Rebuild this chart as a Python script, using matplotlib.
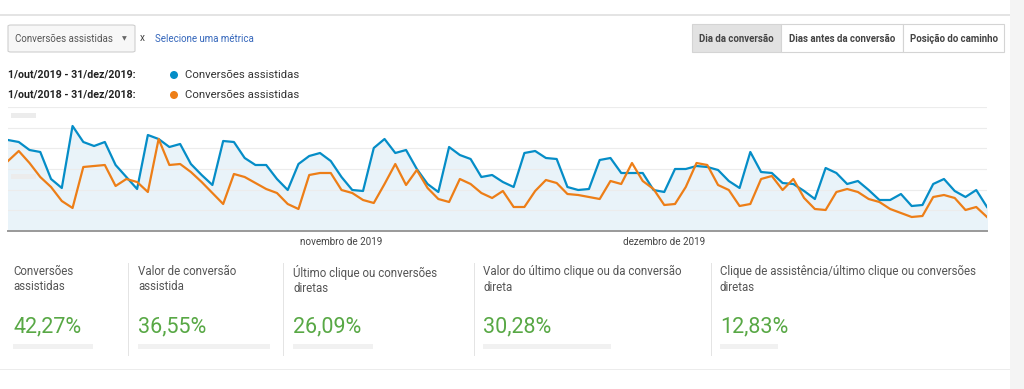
import numpy as np
import pandas as pd
import matplotlib
matplotlib.use('Agg')
import matplotlib.pyplot as plt
from matplotlib.patches import Rectangle, FancyBboxPatch, Ellipse

plt.rcParams['font.family'] = ['Roboto', 'DejaVu Sans']

# daily assisted conversions (axis values hidden in the screenshot, relative scale)
dates = pd.date_range('2019-10-01', '2019-12-31')
conv_2019 = [91, 89, 81, 79, 52, 43, 105, 89, 85, 89, 66, 54, 42, 96, 92, 84,
             87, 67, 56, 46, 90, 89, 73, 66, 66, 52, 41, 67, 75, 78, 70, 54,
             41, 40, 83, 92, 78, 81, 62, 47, 39, 84, 76, 72, 54, 56, 49, 44,
             78, 80, 73, 72, 44, 41, 42, 71, 73, 58, 58, 58, 41, 39, 62, 62,
             65, 64, 61, 50, 43, 79, 59, 58, 48, 47, 40, 32, 63, 58, 47, 50,
             41, 31, 31, 37, 25, 26, 47, 52, 40, 34, 41, 24]
conv_2018 = [70, 80, 68, 54, 44, 30, 23, 64, 65, 66, 45, 52, 49, 39, 92, 66,
             67, 59, 49, 38, 27, 57, 54, 48, 42, 38, 27, 22, 56, 58, 58, 41,
             38, 31, 28, 47, 67, 46, 61, 43, 32, 29, 52, 47, 38, 33, 40, 24,
             24, 40, 51, 48, 37, 36, 34, 32, 50, 47, 68, 50, 42, 26, 27, 44,
             68, 66, 46, 41, 25, 27, 52, 55, 41, 52, 33, 22, 21, 39, 42, 39,
             32, 29, 22, 18, 14, 15, 34, 36, 33, 21, 24, 14]

metric_titles = ['Conversões\nassistidas', 'Valor de conversão\nassistida',
                 'Último clique ou conversões\ndiretas',
                 'Valor do último clique ou da conversão\ndireta',
                 'Clique de assistência/último clique ou conversões\ndiretas']
metric_values = ['42,27%', '36,55%', '26,09%', '30,28%', '12,83%']
tabs = ['Dia da conversão', 'Dias antes da conversão', 'Posição do caminho']
periods = ['1/out/2019 - 31/dez/2019:', '1/out/2018 - 31/dez/2018:']
month_ticks = ['2019-11-01', '2019-12-01']
month_labels = ['novembro de 2019', 'dezembro de 2019']

BLUE = '#058dc7'
ORANGE = '#ed7e17'
GREEN = '#58a845'

W, H = 1024, 389
fig = plt.figure(figsize=(W / 100, H / 100), dpi=100)
fig.patch.set_facecolor('white')


def fx(x):
    return x / W


def fy(y):
    return 1 - y / H


def txt(x, y, s, **kw):
    fig.text(fx(x), fy(y), s, **kw)


def rect(x0, y0, x1, y1, **kw):
    fig.patches.append(Rectangle((fx(x0), fy(y1)), fx(x1) - fx(x0), fy(y0) - fy(y1),
                                 transform=fig.transFigure, **kw))


# page frame
rect(1010, 0, 1024, 389, facecolor='#f4f4f4', edgecolor='none')
rect(0, 14.5, 1010, 15.5, facecolor='#e4e4e4', edgecolor='none')
rect(0, 368.5, 1010, 369.5, facecolor='#ececec', edgecolor='none')

# metric selector
fig.patches.append(FancyBboxPatch((fx(8), fy(52)), fx(127), fy(25) - fy(52),
                                  boxstyle='round,pad=0,rounding_size=0.003',
                                  transform=fig.transFigure, facecolor='#f7f7f7',
                                  edgecolor='#cfcfcf', linewidth=0.8))
txt(15, 38.5, 'Conversões assistidas', fontsize=7.0, color='#555555', va='center')
txt(124, 38.5, '▼', fontsize=4.5, color='#666666', va='center', ha='center',
    family='DejaVu Sans')
txt(140, 38, 'x', fontsize=7.2, color='#444444', va='center')
txt(155, 38.5, 'Selecione uma métrica', fontsize=7.0, color='#3466bb', va='center')

# tab buttons
tab_edges = [692, 781, 903, 1004]
for i, label in enumerate(tabs):
    x0, x1 = tab_edges[i], tab_edges[i + 1]
    rect(x0, 24, x1, 52, facecolor='#e2e2e2' if i == 0 else 'white',
         edgecolor='#d4d4d4', linewidth=0.8)
    txt((x0 + x1) / 2, 38.5, label, fontsize=6.9, weight='bold', color='#444444',
        ha='center', va='center')

# legend rows
for i, (period, col) in enumerate(zip(periods, [BLUE, ORANGE])):
    yy = 75 + 20 * i
    txt(8, yy, period, fontsize=7.7, weight='bold', color='#222222', va='center')
    fig.patches.append(Ellipse((fx(174), fy(yy)), 8 / W, 8 / H, transform=fig.transFigure,
                               facecolor=col, edgecolor='none'))
    txt(185, yy, 'Conversões assistidas', fontsize=8.2, color='#333333', va='center')

# chart
ax = fig.add_axes([fx(8), fy(231), fx(987) - fx(8), fy(107) - fy(231)])
ax.fill_between(dates, conv_2019, 0, color='#e9f3f9', zorder=1)
ax.plot(dates, conv_2019, color=BLUE, lw=1.6, zorder=3)
ax.plot(dates, conv_2018, color=ORANGE, lw=1.6, zorder=3)
ax.set_xlim(dates[0], dates[-1])
ax.set_ylim(0, 124)
ax.set_yticks(np.linspace(0, 124, 7))
ax.set_yticklabels([])
ax.tick_params(axis='y', length=0)
ax.grid(axis='y', color='#ececec', lw=0.8, zorder=0)
ax.set_xticks(pd.to_datetime(month_ticks))
ax.set_xticklabels(month_labels, fontsize=7.1, color='#444444')
ax.tick_params(axis='x', length=0, pad=4)
for side in ['top', 'right', 'left']:
    ax.spines[side].set_visible(False)
ax.spines['bottom'].set_color('#999999')
ax.spines['bottom'].set_linewidth(1.4)
ax.patch.set_alpha(0)

# blurred axis labels
rect(11, 113, 36, 118, facecolor='#ececec', edgecolor='none')
rect(11, 174, 36, 179, facecolor='#ececec', edgecolor='none')

# metric summary cards
col_x = [13, 138, 293, 483, 720]
seps = [128, 283, 474, 711]
blur_w = [80, 132, 80, 128, 58]
for sx in seps:
    rect(sx - 0.5, 263, sx + 0.5, 356, facecolor='#e4e4e4', edgecolor='none')
for x0, title, val, bw in zip(col_x, metric_titles, metric_values, blur_w):
    txt(x0, 265, title, fontsize=8.3, color='#555555', va='top', linespacing=1.25)
    txt(x0, 327, val, fontsize=15.5, color=GREEN, va='center')
    rect(x0, 343.5, x0 + bw, 348.5, facecolor='#f1f1f1', edgecolor='none')

fig.savefig('out.png', dpi=100)
